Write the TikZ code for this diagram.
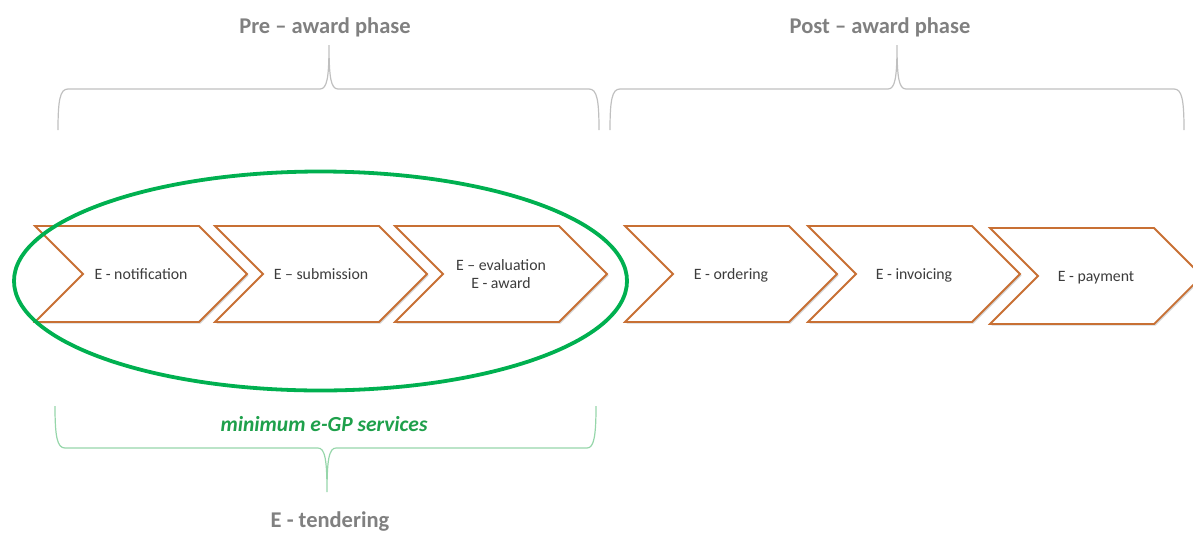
\documentclass[tikz,border=0pt]{standalone}
\usepackage{fontspec}
\setmainfont{Carlito}
\usetikzlibrary{shadows}

\definecolor{chevorange}{RGB}{200,112,52}
\definecolor{ringgreen}{RGB}{0,176,80}
\definecolor{bracegray}{RGB}{192,192,192}
\definecolor{bracegreen}{RGB}{150,214,170}
\definecolor{labelgray}{RGB}{128,128,128}
\definecolor{stepgray}{RGB}{60,60,60}
\definecolor{textgreen}{RGB}{30,160,75}

\tikzset{
  chevron/.style={draw=chevorange, line width=1.8pt, fill=white, line join=miter,
    drop shadow={shadow xshift=1.6pt, shadow yshift=-1.6pt, opacity=.3, fill=black!55}},
  steplabel/.style={text=stepgray, font=\fontsize{15.8}{18}\selectfont, align=center, inner sep=0pt},
  phaselabel/.style={text=labelgray, font=\fontsize{22.5}{26}\selectfont\bfseries, inner sep=0pt},
  greenlabel/.style={text=textgreen, font=\fontsize{21.5}{25}\selectfont\bfseries\itshape, inner sep=0pt},
  graybrace/.style={draw=bracegray, line width=1.2pt},
  greenbrace/.style={draw=bracegreen, line width=1.2pt},
  ring/.style={draw=ringgreen, line width=3.8pt},
}

% chevron outline: left x, top y (width 164, point depth 48, height 96)
\newcommand\chevronpath[2]{%
  \draw[chevron] (#1,#2) -- ++(164,0) -- ++(48,48) -- ++(-48,48)
    -- ++(-164,0) -- ++(48,-48) -- cycle;}

\begin{document}
\begin{tikzpicture}[x=1pt,y=-1pt]
  \useasboundingbox (0,0) rectangle (1193,533);
  \clip (0,0) rectangle (1193,533);

  % process steps
  \chevronpath{35}{226}
  \chevronpath{215}{226}
  \chevronpath{395}{226}
  \chevronpath{625}{226}
  \chevronpath{808}{226}
  \chevronpath{990}{228}

  \node[steplabel, anchor=base] (notif) at (141,279) {E - notification};
  \node[steplabel, anchor=base] (subm)  at (321,279) {E – submission};
  \node[steplabel] (evalaward) at (501,274.5) {E – evaluation\\E - award};
  \node[steplabel, anchor=base] (order) at (731,279) {E - ordering};
  \node[steplabel, anchor=base] (invoice) at (914,279) {E - invoicing};
  \node[steplabel, anchor=base] (pay) at (1096,281) {E - payment};

  % ring round the minimum services
  \draw[ring] (320.5,281) ellipse [x radius=306.5, y radius=109.5];

  % phase braces
  \draw[graybrace] (58,130) .. controls (58,100) and (60,89) .. (68,89)
    -- (320,89) .. controls (327,89) and (329,78) .. (329,45)
    .. controls (329,78) and (331,89) .. (338,89)
    -- (589,89) .. controls (597,89) and (599,100) .. (599,130);
  \draw[graybrace] (610,130) .. controls (610,100) and (612,89) .. (620,89)
    -- (888,89) .. controls (895,89) and (897,78) .. (897,45)
    .. controls (897,78) and (899,89) .. (906,89)
    -- (1174,89) .. controls (1182,89) and (1184,100) .. (1184,130);

  \node[phaselabel, anchor=base] (pre)  at (325,33) {Pre – award phase};
  \node[phaselabel, anchor=base] (post) at (880,33) {Post – award phase};

  % tendering brace
  \draw[greenbrace] (55,406) .. controls (55,436) and (57,448) .. (65,448)
    -- (318,448) .. controls (325,448) and (327,460) .. (327,492)
    .. controls (327,460) and (329,448) .. (336,448)
    -- (587,448) .. controls (594,448) and (596,436) .. (596,406);

  \node[greenlabel] (minimum) at (324,424) {minimum e-GP services};
  \node[phaselabel, anchor=base] (tender) at (330,527) {E - tendering};
\end{tikzpicture}
\end{document}
